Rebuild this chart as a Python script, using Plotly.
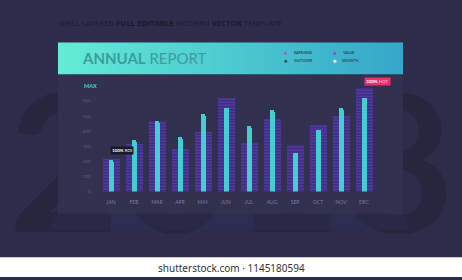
import plotly.graph_objects as go

months = ['JAN', 'FEB', 'MAR', 'APR', 'MAY', 'JUN', 'JUL', 'AUG', 'SEP', 'OCT', 'NOV', 'DEC']
value = [220, 318, 471, 286, 399, 624, 325, 482, 307, 442, 503, 684]
growth = [209, 340, 469, 364, 514, 554, 436, 540, 259, 410, 552, 624]
y_ticks = [0, 100, 200, 300, 400, 500, 600]
y_max = 700

W, H = 462, 280
BG = '#2e2c4b'
FONT = 'Lato'

fig = go.Figure()

# ---- decoration layer (pixel coordinates on x/y) ----
fig.add_trace(go.Scatter(x=[231], y=[186], mode='text', text=['2018'],
                         textfont=dict(family=FONT, size=192, color='#28263f', weight='bold'),
                         xaxis='x', yaxis='y', hoverinfo='skip', showlegend=False))
# panel shadow
fig.add_trace(go.Scatter(x=[50, 58, 403, 410, 50], y=[232, 216, 216, 232, 232], mode='lines',
                         fill='toself', fillcolor='rgba(44,48,102,0.22)', line=dict(width=0),
                         xaxis='x', yaxis='y', hoverinfo='skip', showlegend=False))
# panel
fig.add_trace(go.Scatter(x=[58, 403, 403, 58, 58], y=[43, 43, 216, 216, 43], mode='lines',
                         fill='toself', fillcolor='rgba(51,49,80,0.93)', line=dict(width=0),
                         xaxis='x', yaxis='y', hoverinfo='skip', showlegend=False))
# header band
fig.add_trace(go.Scatter(x=[58, 403, 403, 58, 58], y=[43, 43, 75, 75, 43], mode='lines',
                         fill='toself', line=dict(width=0),
                         fillgradient=dict(type='horizontal',
                                           colorscale=[[0, '#64ecd6'], [1, '#35a6c9']]),
                         xaxis='x', yaxis='y', hoverinfo='skip', showlegend=False))

# ---- chart (x2/y2) ----
fig.add_trace(go.Bar(x=months, y=value, width=0.74, name='VALUE',
                     marker=dict(color='#3b2c7c', line=dict(width=0),
                                 pattern=dict(shape='-', fgcolor='#7a4bdc', size=3, solidity=0.45,
                                              fillmode='overlay')),
                     xaxis='x2', yaxis='y2', showlegend=False))
fig.add_trace(go.Bar(x=months, y=growth, width=0.18, name='GROWTH',
                     marker=dict(color='#43cfd2', cornerradius=2, line=dict(width=0)),
                     xaxis='x2', yaxis='y2', showlegend=False))

annotations = []
# top tagline
annotations.append(dict(x=58, y=23, xref='x', yref='y', xanchor='left', yanchor='middle',
                        showarrow=False,
                        text='WELL LAYERED <b>FULL EDITABLE</b> MODERN <b>VECTOR</b> TEMPLATE',
                        font=dict(family='Open Sans', size=7.8, color='#1c1a2e')))
# title
annotations.append(dict(x=80, y=58.5, xref='x', yref='y', xanchor='left', yanchor='middle',
                        showarrow=False, text='<b>ANNUAL</b> REPORT',
                        font=dict(family=FONT, size=15, color='#3a9d9f')))
# legend items
legend = [('EARNINGS', '#c04fd6', 286, 53), ('OUTCOME', '#1f5a64', 286, 61),
          ('VALUE', '#8a45e8', 334.5, 53), ('GROWTH', '#ffffff', 334.5, 61)]
for name, col, lx, ly in legend:
    annotations.append(dict(x=lx, y=ly, xref='x', yref='y', xanchor='center', yanchor='middle',
                            showarrow=False, text='●', font=dict(family=FONT, size=6, color=col)))
    annotations.append(dict(x=lx + 5.5, y=ly, xref='x', yref='y', xanchor='left', yanchor='middle',
                            showarrow=False, text='<b>' + name + '</b>',
                            font=dict(family=FONT, size=3.6, color='#1d4f5c')))
# MAX label
annotations.append(dict(x=82, y=86.5, xref='x', yref='y', xanchor='left', yanchor='middle',
                        showarrow=False, text='<b>MAX</b>',
                        font=dict(family=FONT, size=5.5, color='#48d2d6')))
# tooltips
annotations.append(dict(x=months[0], y=growth[0], xref='x2', yref='y2', xanchor='left',
                        yanchor='bottom', yshift=5, xshift=-1, showarrow=False,
                        text='<b>100%</b> ROI', bgcolor='#1b1a2c', borderpad=1,
                        font=dict(family=FONT, size=4.5, color='#ffffff')))
annotations.append(dict(x=months[-1], y=value[-1], xref='x2', yref='y2', xanchor='left',
                        yanchor='bottom', yshift=2, xshift=0, showarrow=False,
                        text='<b>100%</b> <span style="color:#ffc2d4">HOT</span>',
                        bgcolor='#e8336a', borderpad=1,
                        font=dict(family=FONT, size=4.5, color='#ffffff')))
# watermark line
annotations.append(dict(x=231, y=270.5, xref='x', yref='y', xanchor='center', yanchor='middle',
                        showarrow=False, text='shutterstock.com · 1145180594',
                        font=dict(family='Noto Sans', size=10, color='#333333')))

shapes = [dict(type='rect', xref='paper', yref='paper', x0=0, x1=1, y0=0, y1=1 - 260 / H,
               fillcolor='#ffffff', line=dict(width=0), layer='above')]

y_bot = (H - 193.7) / H
y_top = (H - 86.6) / H
x_l = 99.5 / W
x_r = 375.5 / W

fig.update_layout(
    width=W, height=H, margin=dict(l=0, r=0, t=0, b=0),
    paper_bgcolor=BG, plot_bgcolor='rgba(0,0,0,0)',
    barmode='overlay', bargap=0,
    xaxis=dict(domain=[0, 1], range=[0, W], visible=False, fixedrange=True),
    yaxis=dict(domain=[0, 1], range=[H, 0], visible=False, fixedrange=True),
    xaxis2=dict(domain=[x_l, x_r], anchor='y2', range=[-0.5, 11.5], showgrid=False,
                zeroline=False, showline=False, ticks='', ticklabelstandoff=6,
                tickfont=dict(family=FONT, size=5, color='#7c7aa3')),
    yaxis2=dict(domain=[y_bot, y_top], anchor='x2', range=[0, y_max], showgrid=False,
                zeroline=False, showline=False, ticks='', tickvals=y_ticks,
                ticktext=[str(v) for v in y_ticks], ticklabelstandoff=8,
                tickfont=dict(family=FONT, size=4.5, color='#5f5d82')),
    annotations=annotations, shapes=shapes,
    showlegend=False,
)

fig.write_html('out.html')
